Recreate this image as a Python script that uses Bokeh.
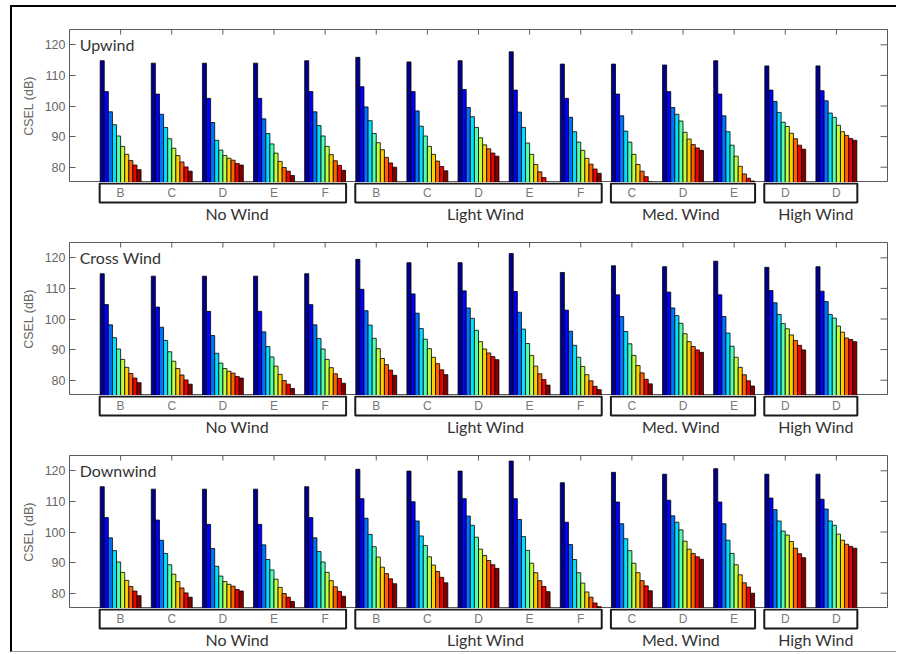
from bokeh.plotting import figure
from bokeh.models import ColumnDataSource, Range1d, FixedTicker
from bokeh.layouts import column
from bokeh.embed import file_html
from bokeh.resources import INLINE
from bokeh.core.properties import value

# ---------------- data ----------------
panel_titles = ["Upwind", "Cross Wind", "Downwind"]
group_letters = ["B", "C", "D", "E", "F", "B", "C", "D", "E", "F", "C", "D", "E", "D", "D"]
wind_classes = ["No Wind", "Light Wind", "Med. Wind", "High Wind"]
class_first = [1, 6, 11, 14]
class_last = [5, 10, 13, 15]
y_ticks = [80, 90, 100, 110, 120]

# CSEL (dB), 10 bars per group
no_wind = [
    [114.8, 104.7, 98.1, 93.9, 90.2, 86.8, 84.2, 82.2, 80.7, 79.2],
    [114.0, 103.9, 97.3, 93.0, 89.3, 86.2, 83.8, 81.7, 80.1, 78.7],
    [114.0, 102.5, 94.6, 88.8, 85.6, 83.8, 82.9, 82.3, 81.2, 80.7],
    [114.0, 102.5, 95.8, 91.0, 87.6, 84.6, 81.9, 79.9, 78.7, 77.3],
    [114.8, 104.7, 98.1, 93.6, 90.2, 86.8, 84.1, 82.1, 80.6, 79.0],
]
up_light = [
    [115.9, 106.3, 99.7, 95.2, 91.0, 88.0, 85.7, 83.2, 81.4, 80.0],
    [114.4, 104.7, 98.4, 93.4, 90.2, 86.8, 84.2, 82.0, 80.2, 78.8],
    [114.8, 105.4, 99.5, 96.5, 93.0, 89.6, 87.3, 86.0, 84.6, 83.6],
    [117.7, 105.2, 98.0, 93.0, 87.9, 84.2, 80.9, 78.5, 76.6, 74.8],
    [113.7, 102.5, 96.3, 91.6, 88.2, 85.5, 82.9, 81.0, 79.4, 78.0],
]
up_med = [
    [113.7, 103.9, 96.8, 91.8, 88.2, 84.2, 80.9, 78.7, 76.9, 75.2],
    [113.4, 104.7, 99.5, 97.3, 95.1, 91.4, 89.2, 87.4, 86.3, 85.5],
    [114.8, 103.9, 96.8, 91.6, 87.2, 83.6, 80.3, 77.8, 76.4, 75.5],
]
up_high = [
    [113.1, 105.2, 101.5, 97.9, 94.7, 93.3, 91.1, 89.3, 87.2, 85.9],
    [113.1, 105.0, 101.7, 97.7, 96.3, 93.7, 91.6, 90.4, 89.4, 88.8],
]
cross_light = [
    [119.5, 109.7, 102.7, 98.0, 93.7, 90.3, 87.1, 85.1, 83.3, 81.6],
    [118.4, 108.2, 101.9, 96.9, 93.4, 90.3, 87.5, 85.4, 83.4, 81.8],
    [118.4, 109.2, 103.6, 100.2, 96.3, 92.6, 90.2, 88.9, 87.7, 86.7],
    [121.4, 109.0, 102.2, 96.7, 92.0, 88.1, 84.6, 82.1, 80.2, 78.4],
    [115.2, 102.9, 96.0, 91.4, 87.5, 84.5, 81.8, 79.8, 78.0, 76.9],
]
cross_med = [
    [117.4, 107.9, 100.8, 95.9, 91.9, 88.1, 84.8, 82.4, 80.3, 78.8],
    [117.1, 108.8, 103.6, 101.1, 98.6, 95.2, 92.6, 91.0, 89.9, 89.1],
    [118.9, 107.9, 100.8, 95.4, 91.1, 87.5, 84.2, 81.8, 79.8, 78.1],
]
cross_high = [
    [116.9, 109.3, 105.3, 101.5, 98.5, 96.8, 94.8, 93.0, 91.4, 89.9],
    [117.1, 109.1, 105.7, 101.5, 100.3, 97.7, 95.7, 93.8, 93.3, 92.6],
]
down_light = [
    [120.5, 110.9, 104.5, 99.2, 95.2, 91.8, 88.5, 86.4, 84.7, 83.1],
    [119.9, 109.9, 103.6, 98.7, 95.6, 91.9, 89.2, 87.1, 85.2, 83.4],
    [119.9, 110.9, 105.2, 102.2, 98.3, 94.4, 92.3, 90.7, 89.3, 88.1],
    [123.2, 110.9, 104.1, 98.5, 94.0, 89.8, 86.7, 84.1, 82.2, 80.5],
    [116.1, 103.2, 95.9, 91.0, 86.7, 83.3, 80.4, 78.7, 76.8, 75.6],
]
down_med = [
    [119.5, 109.8, 102.7, 97.8, 93.9, 89.8, 86.7, 84.1, 82.4, 80.8],
    [118.9, 110.4, 105.3, 103.2, 100.7, 97.0, 94.4, 93.0, 91.9, 91.1],
    [120.7, 109.8, 102.7, 97.3, 93.0, 89.3, 86.0, 83.4, 82.0, 80.0],
]
down_high = [
    [118.9, 111.1, 107.3, 103.6, 100.3, 99.0, 96.9, 94.7, 92.9, 91.6],
    [118.9, 110.7, 107.5, 103.6, 102.2, 99.3, 97.3, 96.0, 95.3, 94.7],
]

panel_groups = [
    no_wind + up_light + up_med + up_high,
    no_wind + cross_light + cross_med + cross_high,
    no_wind + down_light + down_med + down_high,
]

# jet colormap sampled at 10 levels
bar_colors = ["#00008f", "#0000ff", "#0070ff", "#00dfff", "#50ffaf",
              "#bfff40", "#ffcf00", "#ff6000", "#ef0000", "#800000"]

# ---------------- layout constants ----------------
W = 884
ML, MR = 57, 9
FRAME_H = 153
BAR_W = 0.08
X0, X1 = 0, 16
Y0, Y1 = 75, 125
label_shift = [0.28, 0.14, -0.04, 0.1]
LABEL_FONT = value("Lato")
TICK_FONT = value("Liberation Sans")
FRAME_COL = "#5a5a5a"

FRAME_W = W - ML - MR
X_PER_PX = (X1 - X0) / FRAME_W
Y_PER_PX = (Y1 - Y0) / FRAME_H


def main_panel(title, groups, top_border):
    xs, tops, cols = [], [], []
    for g, vals in enumerate(groups, start=1):
        for j, v in enumerate(vals):
            xs.append(g + (j - 4.5) * BAR_W)
            tops.append(v)
            cols.append(bar_colors[j])
    src = ColumnDataSource(dict(x=xs, top=tops, color=cols))

    p = figure(width=W, height=FRAME_H + top_border, output_backend="svg",
               toolbar_location=None, x_range=Range1d(X0, X1), y_range=Range1d(Y0, Y1),
               x_axis_location=None, y_axis_location="left",
               min_border_left=ML, min_border_right=MR, min_border_top=top_border,
               min_border_bottom=0)
    p.grid.visible = False
    p.outline_line_color = FRAME_COL
    p.outline_line_width = 1

    p.vbar(x="x", top="top", bottom=70, width=BAR_W, fill_color="color",
           line_color="black", line_width=0.8, source=src)

    # left axis
    ya = p.yaxis[0]
    ya.ticker = FixedTicker(ticks=y_ticks)
    ya.axis_line_color = None
    ya.major_tick_in = 6
    ya.major_tick_out = 0
    ya.major_tick_line_color = FRAME_COL
    ya.minor_tick_line_color = None
    ya.major_label_standoff = 4
    ya.major_label_text_font = "Liberation Sans"
    ya.major_label_text_font_size = "12.5px"
    ya.major_label_text_color = "#666666"
    ya.axis_label = "CSEL (dB)"
    ya.axis_label_text_font = "Liberation Sans"
    ya.axis_label_text_font_size = "12.5px"
    ya.axis_label_text_font_style = "normal"
    ya.axis_label_text_color = "#666666"
    ya.axis_label_standoff = 6

    # inner tick marks on the top and right edges of the box
    gx = list(range(1, 16))
    p.segment(x0=gx, x1=gx, y0=Y1, y1=Y1 - 5 * Y_PER_PX, line_color=FRAME_COL, line_width=1)
    p.segment(x0=X1, x1=X1 - 7 * X_PER_PX, y0=y_ticks, y1=y_ticks,
              line_color=FRAME_COL, line_width=1)

    p.text(x=[0.2], y=[120.2], text=[title], text_font=LABEL_FONT,
           text_font_size="16px", text_color="#333333", text_baseline="middle",
           text_align="left")
    return p


def strip_panel(height):
    s = figure(width=W, height=height, output_backend="svg", toolbar_location=None,
               x_range=Range1d(X0, X1), y_range=Range1d(height, 0),
               x_axis_location=None, y_axis_location=None,
               min_border_left=ML, min_border_right=MR, min_border_top=0,
               min_border_bottom=0)
    s.grid.visible = False
    s.outline_line_color = None
    lefts = [f - 0.41 for f in class_first]
    rights = [l + 0.41 for l in class_last]
    s.quad(left=lefts, right=rights, top=1, bottom=20, fill_color=None,
           line_color="#1a1a1a", line_width=2)
    s.text(x=list(range(1, 16)), y=10, text=group_letters, text_font=TICK_FONT,
           text_font_size="12px", text_color="#777777", text_align="center",
           text_baseline="middle")
    cx = [(f + l) / 2 + d for f, l, d in zip(class_first, class_last, label_shift)]
    s.text(x=cx, y=31, text=wind_classes, text_font=LABEL_FONT,
           text_font_size="16px", text_color="#333333", text_align="center",
           text_baseline="middle")
    return s


m1 = main_panel(panel_titles[0], panel_groups[0], 22)
s1 = strip_panel(43)
m2 = main_panel(panel_titles[1], panel_groups[1], 17)
s2 = strip_panel(43)
m3 = main_panel(panel_titles[2], panel_groups[2], 17)
s3 = strip_panel(43)

layout = column(m1, s1, m2, s2, m3, s3, spacing=0,
                styles={"margin-left": "10px", "margin-top": "5px",
                        "border-left": "2px solid black", "border-top": "2px solid black",
                        "border-bottom": "1px solid #999999"})

open("out.html", "w").write(file_html(layout, INLINE))
